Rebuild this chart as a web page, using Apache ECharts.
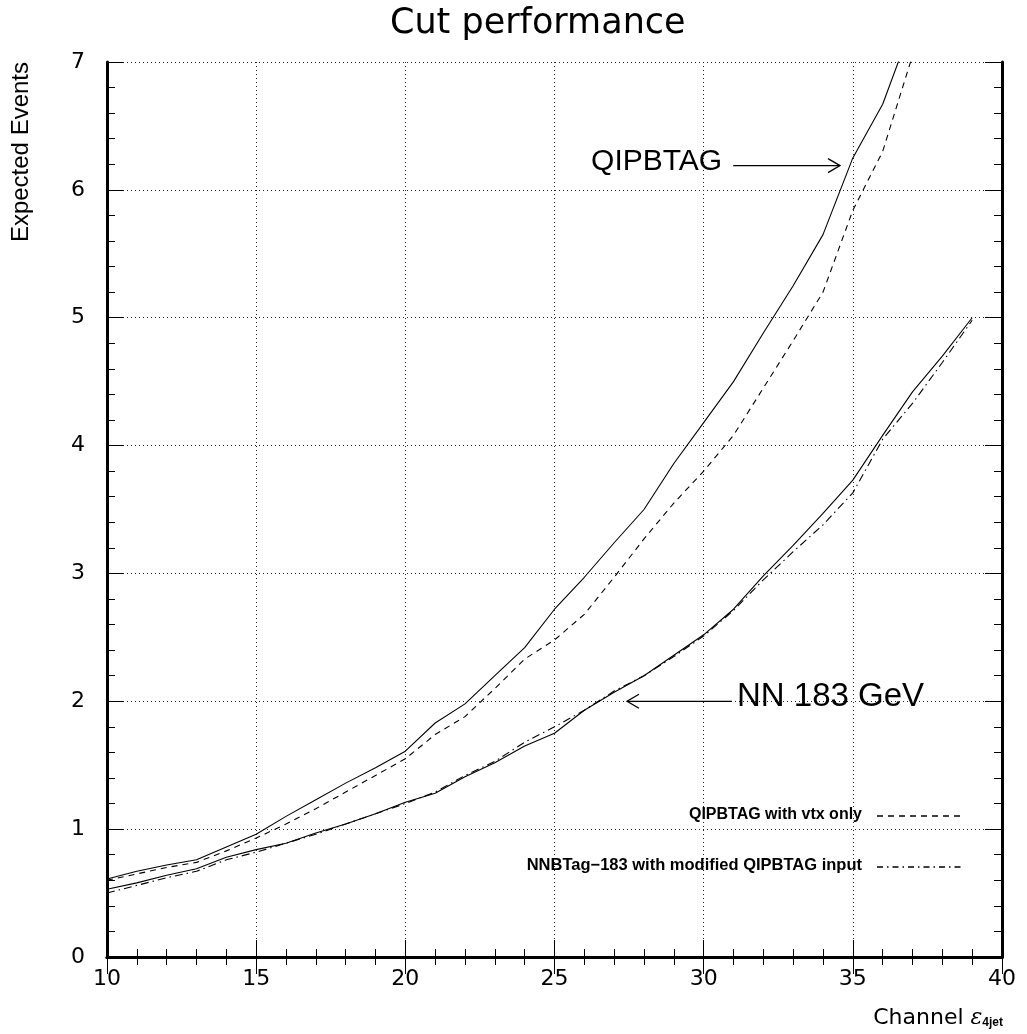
<!DOCTYPE html>
<html>
<head>
<meta charset="utf-8">
<script src="https://cdn.jsdelivr.net/npm/echarts@6/dist/echarts.min.js"></script>
<style>
  html, body { margin: 0; padding: 0; background: #fff; }
  #chart { width: 1027px; height: 1034px; }
</style>
</head>
<body>
<div id="chart"></div>
<script>
// efficiency values (x) and expected events for the four curves
var effA = [10, 11, 12, 13, 14, 15, 16, 17, 18, 19, 20, 21, 22, 23, 24, 25, 26, 27, 28, 29, 30, 31, 32, 33, 34, 35, 36, 37];
var qipbtag = [0.61, 0.67, 0.72, 0.76, 0.86, 0.96, 1.10, 1.23, 1.36, 1.48, 1.61, 1.83, 1.98, 2.20, 2.42, 2.72, 2.97, 3.24, 3.50, 3.86, 4.18, 4.50, 4.88, 5.25, 5.65, 6.25, 6.67, 7.30];
var qipbtagVtx = [0.60, 0.65, 0.70, 0.74, 0.83, 0.93, 1.04, 1.16, 1.29, 1.42, 1.55, 1.74, 1.88, 2.10, 2.33, 2.48, 2.68, 2.97, 3.27, 3.55, 3.80, 4.08, 4.45, 4.82, 5.20, 5.84, 6.30, 7.05];

var effB = [10, 11, 12, 13, 14, 15, 16, 17, 18, 19, 20, 21, 22, 23, 24, 25, 26, 27, 28, 29, 30, 31, 32, 33, 34, 35, 36, 37, 38, 39];
var nn183 = [0.53, 0.58, 0.64, 0.69, 0.78, 0.84, 0.89, 0.97, 1.04, 1.12, 1.21, 1.28, 1.41, 1.52, 1.65, 1.75, 1.93, 2.07, 2.20, 2.36, 2.52, 2.72, 2.98, 3.22, 3.47, 3.73, 4.08, 4.42, 4.70, 5.00];
var nnModified = [0.50, 0.56, 0.62, 0.67, 0.76, 0.82, 0.89, 0.96, 1.04, 1.12, 1.20, 1.29, 1.42, 1.53, 1.68, 1.80, 1.93, 2.08, 2.20, 2.35, 2.51, 2.71, 2.95, 3.17, 3.38, 3.63, 4.05, 4.33, 4.65, 4.98];

// annotation arrows: [tail x, tail y, head x, head y] in data units
var arrowQ = [30.99, 6.19, 34.57, 6.19];
var arrowNN = [30.95, 2.0, 27.43, 2.0];

function pairs(xs, ys) {
    return xs.map(function (x, i) { return [x, ys[i]]; });
}

var tickFont = 'DejaVu Sans';
var gridLine = { show: true, lineStyle: { color: '#222', width: 1, type: [1, 3] } };

var option = {
    animation: false,
    backgroundColor: '#fff',
    grid: { left: 107, top: 62, right: 25, bottom: 77 },
    xAxis: [{
        type: 'value', min: 10, max: 40, interval: 5, position: 'bottom',
        axisLine: { lineStyle: { color: '#000', width: 3 } },
        axisTick: { inside: true, length: 17, lineStyle: { color: '#000', width: 1 } },
        minorTick: { show: true, splitNumber: 5, length: 8, lineStyle: { color: '#000', width: 1 } },
        axisLabel: { color: '#000', fontFamily: tickFont, fontSize: 22, margin: 11 },
        splitLine: gridLine
    }, {
        type: 'value', min: 10, max: 40, interval: 5, position: 'top',
        axisLine: { lineStyle: { color: '#000', width: 3 } },
        axisTick: { inside: true, length: 17, lineStyle: { color: '#000', width: 1 } },
        minorTick: { show: true, splitNumber: 5, length: 8, lineStyle: { color: '#000', width: 1 } },
        axisLabel: { show: false },
        splitLine: { show: false }
    }],
    yAxis: [{
        type: 'value', min: 0, max: 7, interval: 1, position: 'left',
        axisLine: { show: true, lineStyle: { color: '#000', width: 3 } },
        axisTick: { show: true, inside: true, length: 17, lineStyle: { color: '#000', width: 1 } },
        minorTick: { show: true, splitNumber: 5, length: 8, lineStyle: { color: '#000', width: 1 } },
        axisLabel: { color: '#000', fontFamily: tickFont, fontSize: 22, margin: 22 },
        splitLine: gridLine
    }, {
        type: 'value', min: 0, max: 7, interval: 1, position: 'right',
        axisLine: { show: true, lineStyle: { color: '#000', width: 3 } },
        axisTick: { show: true, inside: true, length: 17, lineStyle: { color: '#000', width: 1 } },
        minorTick: { show: true, splitNumber: 5, length: 8, lineStyle: { color: '#000', width: 1 } },
        axisLabel: { show: false },
        splitLine: { show: false }
    }],
    series: [{
        name: 'QIPBTAG', type: 'line', showSymbol: false, z: 3,
        lineStyle: { color: '#000', width: 1.1 },
        data: pairs(effA, qipbtag)
    }, {
        name: 'QIPBTAG with vtx only', type: 'line', showSymbol: false, z: 3,
        lineStyle: { color: '#000', width: 1.1, type: [6, 5] },
        data: pairs(effA, qipbtagVtx)
    }, {
        name: 'NN 183 GeV', type: 'line', showSymbol: false, z: 3,
        lineStyle: { color: '#000', width: 1.1 },
        data: pairs(effB, nn183)
    }, {
        name: 'NNBTag-183 with modified QIPBTAG input', type: 'line', showSymbol: false, z: 3,
        lineStyle: { color: '#000', width: 1.1, type: [8, 4, 1.5, 4] },
        data: pairs(effB, nnModified)
    }]
};

var chart = echarts.init(document.getElementById('chart'));
chart.setOption(option);

function arrowGraphic(a) {
    var p0 = chart.convertToPixel({ gridIndex: 0 }, [a[0], a[1]]);
    var p1 = chart.convertToPixel({ gridIndex: 0 }, [a[2], a[3]]);
    var dx = p1[0] - p0[0], dy = p1[1] - p0[1];
    var len = Math.sqrt(dx * dx + dy * dy);
    var ux = dx / len, uy = dy / len;
    var style = { stroke: '#000', lineWidth: 1.3, fill: null };
    return [
        { type: 'line', shape: { x1: p0[0], y1: p0[1], x2: p1[0], y2: p1[1] }, style: style, z: 10 },
        { type: 'polyline', shape: { points: [
            [p1[0] - ux * 12 - uy * 7, p1[1] - uy * 12 + ux * 7],
            [p1[0], p1[1]],
            [p1[0] - ux * 12 + uy * 7, p1[1] - uy * 12 - ux * 7]
        ] }, style: style, z: 10 }
    ];
}

var qTail = chart.convertToPixel({ gridIndex: 0 }, [arrowQ[0], arrowQ[1]]);
var nTail = chart.convertToPixel({ gridIndex: 0 }, [arrowNN[0], arrowNN[1]]);

var graphics = [
    { type: 'text', left: 390, top: 6, style: { text: 'Cut performance', font: '35px "DejaVu Sans"', fill: '#000' } },
    { type: 'text', x: 21, y: 62, rotation: Math.PI / 2,
      style: { text: 'Expected Events', font: '24px "Liberation Sans"', fill: '#000', align: 'right', verticalAlign: 'middle' } },
    { type: 'text', x: 1003, y: 1018,
      style: { text: '{a|Channel }{e|ε}{s|4jet}', align: 'right', verticalAlign: 'middle', fill: '#000',
        rich: {
            a: { fontFamily: 'DejaVu Sans', fontSize: 22, fill: '#000' },
            e: { fontFamily: 'DejaVu Serif', fontStyle: 'italic', fontSize: 22, fill: '#000' },
            s: { fontFamily: 'Liberation Sans', fontWeight: 'bold', fontSize: 12, fill: '#000', padding: [10, 0, 0, 0] }
        } } },
    { type: 'text', x: qTail[0] - 11, y: qTail[1] - 4, z: 10,
      style: { text: 'QIPBTAG', font: '30px "Liberation Sans"', fill: '#000', align: 'right', verticalAlign: 'middle' } },
    { type: 'text', x: nTail[0] + 5, y: nTail[1] - 4, z: 10,
      style: { text: 'NN 183 GeV', font: '33px "Liberation Sans"', fill: '#000', align: 'left', verticalAlign: 'middle' } },
    // legend samples
    { type: 'text', x: 862, y: 815, z: 10,
      style: { text: 'QIPBTAG with vtx only', font: 'bold 16px "Liberation Sans"', fill: '#000', align: 'right', verticalAlign: 'middle' } },
    { type: 'line', shape: { x1: 877, y1: 816, x2: 965, y2: 816 }, z: 10,
      style: { stroke: '#000', lineWidth: 1.5, lineDash: [6, 5] } },
    { type: 'text', x: 862, y: 865, z: 10,
      style: { text: 'NNBTag\u2212183 with modified QIPBTAG input', font: 'bold 16.5px "Liberation Sans"', fill: '#000', align: 'right', verticalAlign: 'middle' } },
    { type: 'line', shape: { x1: 877, y1: 867, x2: 962, y2: 867 }, z: 10,
      style: { stroke: '#000', lineWidth: 1.5, lineDash: [6, 4, 1.5, 4] } }
].concat(arrowGraphic(arrowQ), arrowGraphic(arrowNN));

chart.setOption({ graphic: graphics });
</script>
</body>
</html>
